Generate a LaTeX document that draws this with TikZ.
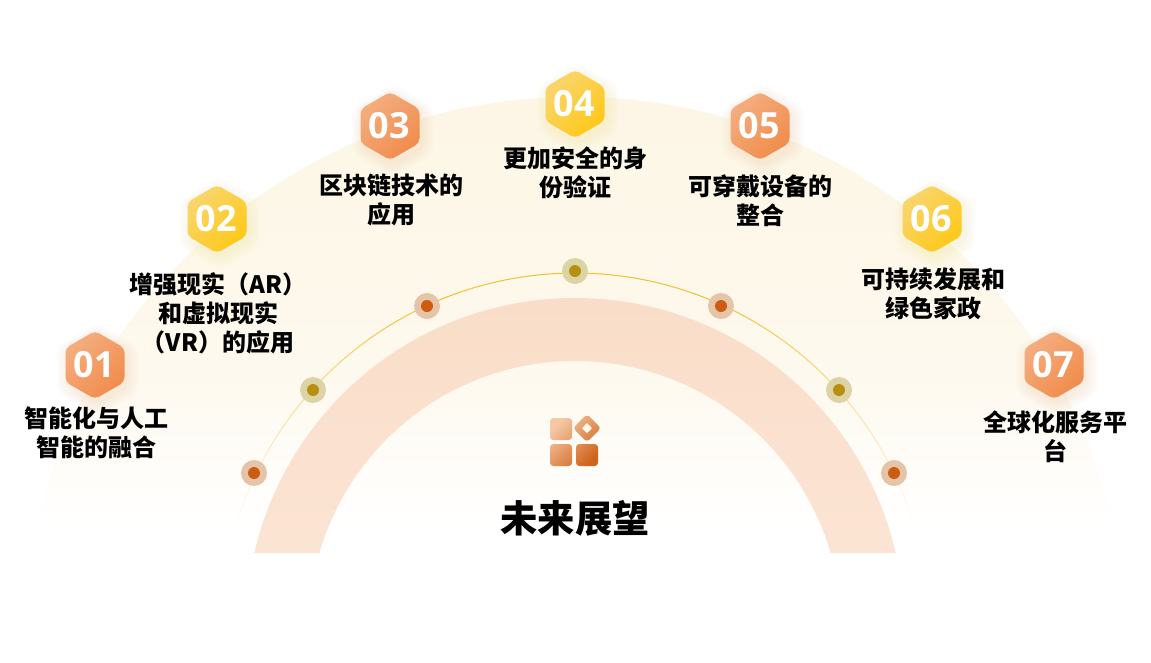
\documentclass[tikz,border=0pt]{standalone}
\usepackage{fontspec}
\newfontfamily\cjk{Noto Sans CJK SC}
\newfontfamily\numf{Open Sans}
\definecolor{hoA}{RGB}{244,174,128}
\definecolor{hoB}{RGB}{241,140,76}
\definecolor{hyA}{RGB}{248,214,111}
\definecolor{hyB}{RGB}{255,200,24}
\definecolor{dotoA}{RGB}{230,196,168}
\definecolor{dotoB}{RGB}{204,92,18}
\definecolor{dotyA}{RGB}{221,212,165}
\definecolor{dotyB}{RGB}{184,144,15}
\definecolor{lineC}{RGB}{239,190,40}
\definecolor{bgA}{RGB}{253,246,229}
\definecolor{bgB}{RGB}{254,249,238}
\definecolor{ringA}{RGB}{249,221,200}
\definecolor{ringB}{RGB}{252,228,212}
\definecolor{icoA}{RGB}{246,200,166}
\definecolor{icoM}{RGB}{241,150,92}
\definecolor{icoB}{RGB}{208,100,28}
\pgfdeclareverticalshading{bgfade}{100bp}{color(0bp)=(white);color(28bp)=(white);color(45bp)=(bgB);color(75bp)=(bgA);color(100bp)=(bgA)}
\tikzset{
  lbl/.style={font=\cjk\bfseries\fontsize{18}{21.6}\selectfont,align=center,text=black,inner sep=0pt},
  title/.style={font=\cjk\bfseries\fontsize{28}{33}\selectfont,text=black,inner sep=0pt},
  num/.style={font=\numf\bfseries\fontsize{27}{30}\selectfont,text=white,inner sep=0pt},
  dotcore/.style={circle,inner sep=0pt,minimum size=9pt},
}
\newcommand{\hexshape}[1]{(0,{-34*#1}) -- ({29.5*#1},{-17*#1}) -- ({29.5*#1},{17*#1}) -- (0,{34*#1}) -- ({-29.5*#1},{17*#1}) -- ({-29.5*#1},{-17*#1}) -- cycle}
\newcommand{\hexa}[6]{%
  \begin{scope}[shift={(#2,#3)}]
    \foreach \s in {1.02,1.08,...,1.38}{
      \fill[#5,opacity=0.028,rounded corners=6pt,shift={(3,5)}] \hexshape{\s};
    }
    \shade[left color=#5,right color=#6,shading angle=45,rounded corners=3.5pt] \hexshape{1};
    \node[num] (#1) at (-1,0) {#4};
  \end{scope}}
\newcommand{\dotmark}[5]{%
  \fill[#4] (#2,#3) circle[radius=13];
  \node[dotcore,fill=#5] (#1) at (#2,#3) {};}
\begin{document}
\begin{tikzpicture}[x=0.75pt,y=-0.75pt]
\useasboundingbox (0,0) rectangle (1151,662);
\fill[white] (0,0) rectangle (1151,662);
% big background dome
\begin{scope}
  \clip (575,650) circle[radius=553];
  \path[shading=bgfade] (0,97) rectangle (1151,552);
\end{scope}
% orange ring
\begin{scope}
  \clip (0,0) rectangle (1151,552);
  \begin{scope}[even odd rule]
  \clip (575,627) circle[radius=329] (575,627) circle[radius=266];
  \shade[top color=ringA,bottom color=ringB] (240,297) rectangle (910,552);
  \end{scope}
\end{scope}
% thin fading line
\foreach \a in {17,17.5,...,162.5}{
  \pgfmathsetmacro{\d}{min(\a-17,163-\a)}
  \pgfmathsetmacro{\op}{min(1,\d/50)}
  \pgfmathsetmacro{\b}{\a+0.5}
  \draw[lineC,line width=0.75pt,opacity=\op]
    ({575+354*cos(\a)},{627-354*sin(\a)}) -- ({575+354*cos(\b)},{627-354*sin(\b)});
}
% dots
\dotmark{d1}{254}{473}{dotoA}{dotoB}
\dotmark{d2}{313}{390}{dotyA}{dotyB}
\dotmark{d3}{427}{306}{dotoA}{dotoB}
\dotmark{d4}{575}{271}{dotyA}{dotyB}
\dotmark{d5}{721}{306}{dotoA}{dotoB}
\dotmark{d6}{839}{390}{dotyA}{dotyB}
\dotmark{d7}{894}{473}{dotoA}{dotoB}
% hexagons
\hexa{h1}{95}{365}{01}{hoA}{hoB}
\hexa{h2}{217}{219}{02}{hyA}{hyB}
\hexa{h3}{390}{126}{03}{hoA}{hoB}
\hexa{h4}{575}{104}{04}{hyA}{hyB}
\hexa{h5}{760}{126}{05}{hoA}{hoB}
\hexa{h6}{932}{219}{06}{hyA}{hyB}
\hexa{h7}{1054}{365}{07}{hoA}{hoB}
% labels
\node[lbl] (t1) at (96,433) {智能化与人工\\智能的融合};
\node[lbl] (t2) at (218,313) {增强现实（AR）\\和虚拟现实\\（VR）的应用};
\node[lbl] (t3) at (391,200) {区块链技术的\\应用};
\node[lbl] (t4) at (575,173) {更加安全的身\\份验证};
\node[lbl] (t5) at (760,201) {可穿戴设备的\\整合};
\node[lbl] (t6) at (933,294) {可持续发展和\\绿色家政};
\node[lbl] (t7) at (1055,437) {全球化服务平\\台};
% icon
\begin{scope}[rounded corners=2.5pt]
  \clip
    (550,418) rectangle (572,440)
    (550,444) rectangle (572,466)
    (576,444) rectangle (598,466)
    (587,414) -- (601,428) -- (587,442) -- (573,428) -- cycle;
  \shade[left color=icoA,middle color=icoM,right color=icoB,shading angle=45,sharp corners] (550,416) rectangle (600,466);
\end{scope}
\fill[bgB,rounded corners=0.5pt] (587,423) -- (592,428) -- (587,433) -- (582,428) -- cycle;
% title
\node[title] (title) at (575,518) {未来展望};
\end{tikzpicture}
\end{document}
